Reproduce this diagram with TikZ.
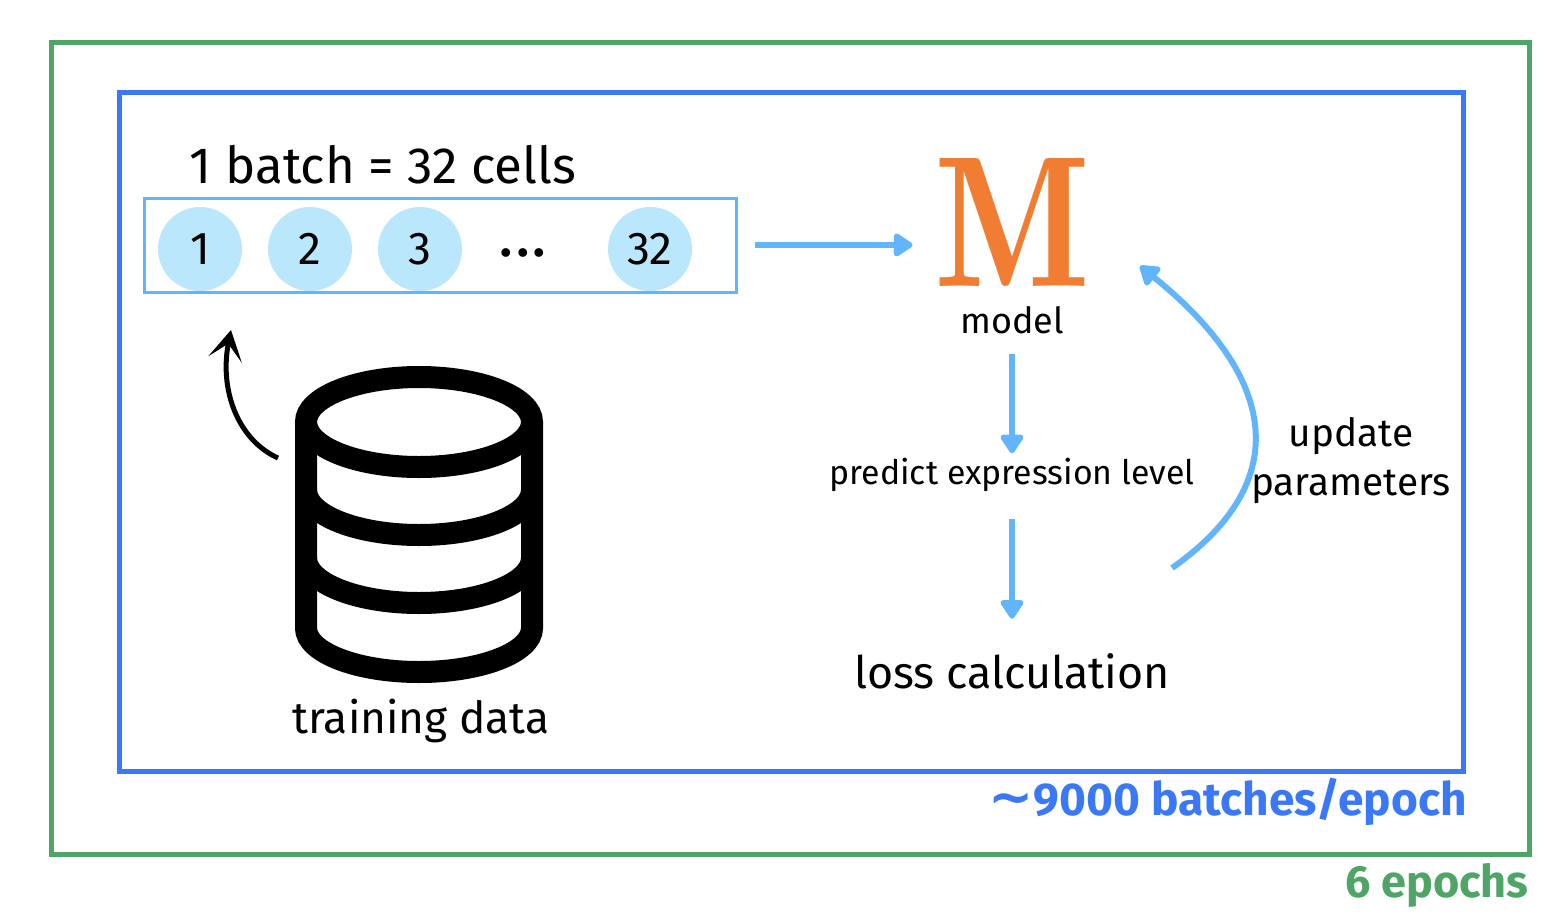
\documentclass[tikz,border=0pt]{standalone}
\usepackage{fontspec}
\setmainfont{Fira Sans}
\newfontfamily\waveface{DejaVu Sans}
\usetikzlibrary{arrows.meta}
\definecolor{framegreen}{HTML}{4FA566}
\definecolor{frameblue}{HTML}{3B78F6}
\definecolor{arrowblue}{HTML}{62B5FB}
\definecolor{cellblue}{HTML}{BBE7FD}
\definecolor{modelorange}{HTML}{F07D32}
\tikzset{
  bluearrow/.style={line width=3pt,draw=arrowblue,-{Triangle[length=10.5pt,width=13pt,round]}},
  dbline/.style={line width=11pt,draw=black},
  cell/.style={circle,fill=cellblue,minimum size=42pt,inner sep=0pt},
  plain/.style={inner sep=0pt,anchor=base},
}

\begin{document}
\begin{tikzpicture}[x=0.5pt,y=-0.5pt]
  \useasboundingbox (0,0) rectangle (1564,922);

  \draw[line width=2.5pt,draw=framegreen] (51,42) rectangle (1529,854);
  \draw[line width=2.5pt,draw=frameblue] (119,92) rectangle (1463.5,771);

  \node (batchbox) [draw=arrowblue,line width=1.5pt,minimum width=296pt,minimum height=47pt,inner sep=0pt] at (440,245) {};
  \node (batchtitle) [plain,font=\fontsize{25.5}{30}\selectfont] at (383,183) {1 batch = 32 cells};

  \node (cell1) [cell,font=\fontsize{23}{27}\selectfont] at (200,249) {1};
  \node (cell2) [cell,font=\fontsize{23}{27}\selectfont] at (310,249) {2};
  \node (cell3) [cell,font=\fontsize{23}{27}\selectfont] at (420,249) {3};
  \node (cell32) [cell,font=\fontsize{23}{27}\selectfont] at (650,249) {32};
  \node (celldots) [plain,font=\fontsize{24}{28}\selectfont\bfseries] at (523,256) {.\hspace{2.5pt}.\hspace{2.5pt}.};

  % database drum
  \draw[dbline] (419,422) ellipse [x radius=113,y radius=45];
  \draw[dbline] (306,422) -- (306,628) arc [start angle=180,end angle=0,x radius=113,y radius=44] -- (532,422);
  \draw[dbline] (306,490) arc [start angle=180,end angle=0,x radius=113,y radius=45];
  \draw[dbline] (306,558) arc [start angle=180,end angle=0,x radius=113,y radius=45];
  \node (trainingdata) [plain,font=\fontsize{22.1}{26}\selectfont] at (421,733) {training data};

  \coordinate (drumleft) at (278,458);
  \coordinate (cellbelow) at (231,330);
  \draw[line width=2.5pt,-{Stealth[length=15pt,width=17pt,inset=8pt]}] (drumleft) .. controls (238,440) and (219,390) .. (cellbelow);

  \node (modelM) [plain,anchor=center,text=modelorange] at (1012,222) {\resizebox{78pt}{64pt}{\fontfamily{lmr}\bfseries M}};
  \node (model) [plain,font=\fontsize{18}{21}\selectfont] at (1012,333) {model};
  \node (predict) [plain,font=\fontsize{16.9}{20}\selectfont] at (1012,484) {predict expression level};
  \node (loss) [plain,font=\fontsize{22.4}{26}\selectfont] at (1012,688) {loss calculation};
  \node (update) [plain,font=\fontsize{19.4}{23}\selectfont] at (1351,446) {update};
  \node (parameters) [plain,font=\fontsize{19.4}{23}\selectfont] at (1351,495) {parameters};

  \draw[bluearrow,shorten <=8.5pt,shorten >=10.5pt] (batchbox.east) -- (batchbox.east -| modelM.west);
  \draw[bluearrow,shorten <=10pt,shorten >=2pt] (model.south) -- (predict.north);
  \draw[bluearrow,shorten <=13.5pt,shorten >=17pt] (predict.south) -- (loss.north);

  \coordinate (lossright) at (1172,568);
  \coordinate (modelright) at (1140,266);
  \draw[bluearrow] (lossright) .. controls (1297,480) and (1275,375) .. (modelright);

  \node (batchcount) [plain,anchor=base east,text=frameblue,font=\fontsize{23}{27}\selectfont\bfseries] at (1467,815) {{\waveface\fontsize{27}{27}\selectfont ∼}9000 batches/epoch};
  \node (epochcount) [plain,anchor=base east,text=framegreen,font=\fontsize{22.5}{26}\selectfont\bfseries] at (1529,897) {6 epochs};
\end{tikzpicture}
\end{document}
